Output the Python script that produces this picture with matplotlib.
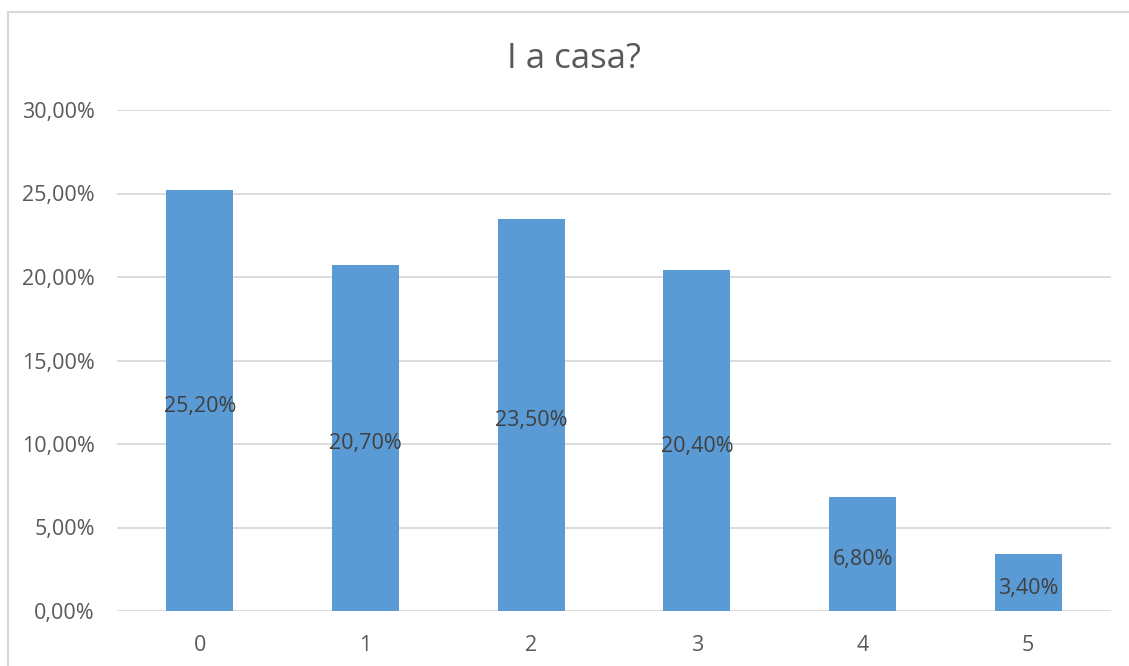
import matplotlib
matplotlib.use("Agg")
import matplotlib.pyplot as plt
from matplotlib.patches import Rectangle

# Data
categories = ["0", "1", "2", "3", "4", "5"]
values = [25.20, 20.70, 23.50, 20.40, 6.80, 3.40]
yticks = [0, 5, 10, 15, 20, 25, 30]

plt.rcParams["font.family"] = ["Open Sans", "DejaVu Sans"]

fig = plt.figure(figsize=(11.29, 6.66), dpi=100)
ax = fig.add_axes([117 / 1129, 55 / 666, 994 / 1129, 501 / 666])

# chart border
fig.patches.append(Rectangle((8 / 1129, -0.05), 1.2, (654 / 666) + 0.05,
                             transform=fig.transFigure, fill=False,
                             edgecolor="#D9D9D9", linewidth=1.5))

x = range(len(categories))
bars = ax.bar(x, values, width=0.405, color="#5B9BD5", zorder=3)

for xi, v in zip(x, values):
    ax.annotate(f"{v:.2f}%".replace(".", ","), (xi, v / 2), xytext=(0, -4),
                textcoords="offset points", ha="center", va="center",
                fontsize=15.5, color="#404040", zorder=4)

ax.set_xlim(-0.5, 5.5)
ax.set_ylim(0, 30)
ax.set_yticks(yticks)
ax.set_yticklabels([f"{t:.2f}%".replace(".", ",") for t in yticks])
ax.set_xticks(list(x))
ax.set_xticklabels(categories)
ax.grid(axis="y", color="#D9D9D9", linewidth=1.3, zorder=0)
for s in ax.spines.values():
    s.set_visible(False)
ax.tick_params(length=0, labelsize=15.5, colors="#595959")
ax.tick_params(axis="y", pad=16)
ax.tick_params(axis="x", pad=17)

fig.text(574 / 1129, 1 - 59 / 666, "I a casa?", ha="center", va="center",
         fontsize=25, color="#595959")

fig.savefig("out.png", dpi=100)
